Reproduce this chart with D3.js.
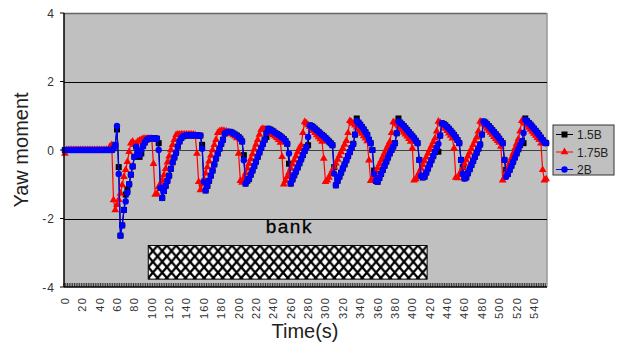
<!DOCTYPE html>
<html lang="en">
<head>
<meta charset="utf-8">
<title>Yaw moment</title>
<script src="https://d3js.org/d3.v7.min.js"></script>
<style>
  body { margin: 0; background: #fff; }
  text { font-family: "Liberation Sans", Arial, sans-serif; }
</style>
</head>
<body>
<script>
// one sample every 2 s, category axis
var times = d3.range(0, 556, 2);
var tickLabels = d3.range(0, 541, 20);
var yTicks = [-4, -2, 0, 2, 4];
var seriesNames = ["1.5B", "1.75B", "2B"];
var bankTimes = [97, 418];
var bankLevels = [-2.79, -3.77];
var bankLabel = "bank";

var yaw15 = [
  0,0,0,0,0,0,0,0,0,0,
  0,0,0,0,0,0,0,0,0,0,
  0,0,0,0,0,0,0,0,0.05,0.15,
  0.6,-0.5,-2.5,-2.2,-1.75,-1.3,-1.15,-1.0,-0.72,-0.48,
  -0.2,0.1,-0.05,-0.2,-0.1,0.12,0.22,0.3,0.33,0.34,
  0.34,0.34,0.34,0.33,0.2,-1.1,-1.4,-1.2,-1.05,-0.9,
  -0.75,-0.55,-0.36,-0.22,-0.08,0.1,0.25,0.35,0.4,0.42,
  0.43,0.43,0.43,0.43,0.43,0.43,0.43,0.42,0.42,0.15,
  -0.93,-1.18,-1.05,-0.9,-0.75,-0.6,-0.42,-0.25,-0.1,0.04,
  0.18,0.3,0.48,0.52,0.53,0.53,0.51,0.48,0.45,0.42,
  0.38,0.33,0.25,-0.15,-0.98,-0.9,-0.85,-0.72,-0.6,-0.47,
  -0.34,-0.2,-0.07,0.06,0.18,0.3,0.38,0.62,0.6,0.57,
  0.54,0.5,0.47,0.44,0.4,0.36,0.32,0.26,0.18,-0.4,
  -0.98,-0.86,-0.74,-0.63,-0.51,-0.39,-0.27,-0.15,-0.03,0.09,
  0.14,0.72,0.7,0.66,0.62,0.57,0.53,0.48,0.44,0.4,
  0.35,0.3,0.25,0.2,0.14,-0.5,-1.03,-0.9,-0.78,-0.66,
  -0.54,-0.42,-0.3,-0.18,-0.06,0.06,0.18,0.45,0.92,0.8,
  0.74,0.67,0.6,0.52,0.44,0.3,0.2,0.0,-0.6,-0.9,
  -0.93,-0.82,-0.7,-0.58,-0.46,-0.34,-0.22,-0.1,0.0,0.1,
  0.2,0.49,0.92,0.8,0.75,0.7,0.64,0.58,0.52,0.46,
  0.4,0.34,0.27,0.2,-0.29,-0.75,-0.8,-0.78,-0.66,-0.54,
  -0.42,-0.3,-0.18,-0.06,0.06,-0.05,0.42,0.78,0.76,0.72,
  0.67,0.62,0.56,0.5,0.44,0.37,0.29,0.2,-0.29,-0.5,
  -0.83,-0.8,-0.68,-0.56,-0.44,-0.32,-0.2,-0.08,0.04,0.16,
  0.45,0.83,0.8,0.75,0.7,0.64,0.58,0.52,0.46,0.4,
  0.33,0.26,0.2,-0.29,-0.58,-0.7,-0.58,-0.46,-0.34,-0.22,
  -0.1,0.02,0.14,0.26,0.2,0.92,0.84,0.79,0.74,0.68,
  0.62,0.56,0.5,0.43,0.36,0.29,0.22,0.2
];

var yaw175 = [
  -0.1,0,0,0,0,0,0,0,0,0,
  0,0,0,0,0,0,0,0,0,0,
  0,0,0,0,0,0,0.1,0.15,-1.46,-1.75,
  -1.6,-1.45,-1.27,-1.02,-0.78,-0.58,-0.34,-0.05,0.2,0.25,
  0.15,0.2,0.25,0.28,0.3,0.33,0.33,0.33,0.33,0.33,
  0.33,-0.4,-1.3,-1.28,-1.07,-1.0,-0.9,-0.73,-0.55,-0.36,
  -0.18,0.0,0.15,0.3,0.44,0.45,0.45,0.45,0.45,0.45,
  0.45,0.45,0.45,0.45,0.45,0.44,-0.1,-0.93,-1.17,-1.0,
  -0.85,-0.68,-0.5,-0.33,-0.16,0.0,0.15,0.3,0.5,0.55,
  0.56,0.56,0.55,0.54,0.52,0.5,0.47,0.44,0.4,0.35,
  -0.1,-0.9,-0.95,-0.82,-0.68,-0.54,-0.4,-0.26,-0.12,0.02,
  0.16,0.3,0.45,0.6,0.62,0.6,0.57,0.54,0.5,0.47,
  0.44,0.4,0.36,0.3,0.22,-0.2,-1.0,-0.9,-0.78,-0.66,
  -0.54,-0.42,-0.3,-0.18,-0.06,0.06,0.14,0.5,0.82,0.78,
  0.73,0.68,0.62,0.56,0.5,0.44,0.38,0.32,0.25,-0.25,
  -0.93,-0.88,-0.8,-0.7,-0.6,-0.5,-0.39,-0.28,-0.17,-0.06,
  0.05,0.16,0.27,0.5,0.85,0.82,0.77,0.72,0.66,0.6,
  0.54,0.48,0.41,0.34,0.26,-0.3,-0.9,-0.85,-0.75,-0.64,
  -0.53,-0.42,-0.31,-0.2,-0.09,0.02,0.13,0.24,0.5,0.82,
  0.8,0.75,0.7,0.64,0.58,0.52,0.46,0.4,0.33,0.25,
  0.05,-0.88,-0.85,-0.76,-0.65,-0.54,-0.43,-0.32,-0.21,-0.1,
  0.01,0.12,0.23,0.34,0.55,0.83,0.8,0.75,0.69,0.63,
  0.56,0.49,0.42,0.34,0.05,-0.8,-0.82,-0.72,-0.62,-0.51,
  -0.4,-0.29,-0.18,-0.07,0.04,0.15,0.26,0.37,0.55,0.83,
  0.8,0.75,0.69,0.63,0.57,0.51,0.45,0.39,0.33,0.27,
  0.22,0.1,-0.88,-0.8,-0.66,-0.52,-0.38,-0.24,-0.1,0.04,
  0.18,0.32,0.55,0.85,0.82,0.77,0.72,0.66,0.6,0.54,
  0.48,0.42,0.36,0.3,0.2,-0.58,-0.88,-0.85
];

var yaw2 = [
  0,0,0,0,0,0,0,0,0,0,
  0,0,0,0,0,0,0,0,0,0,
  0,0,0,0,0,0,0,0,0.05,0.15,
  0.7,-0.7,-2.5,-2.2,-1.75,-1.5,-1.25,-1.0,-0.72,-0.48,
  -0.2,0.1,-0.05,-0.15,0.0,0.12,0.22,0.3,0.33,0.34,
  0.34,0.34,0.34,0.33,0.0,-1.1,-1.4,-1.2,-1.05,-0.9,
  -0.75,-0.55,-0.36,-0.22,-0.08,0.1,0.25,0.35,0.4,0.42,
  0.43,0.43,0.43,0.43,0.43,0.43,0.43,0.42,0.42,0.04,
  -0.93,-1.18,-1.05,-0.9,-0.75,-0.6,-0.42,-0.25,-0.1,0.04,
  0.18,0.3,0.48,0.52,0.53,0.53,0.51,0.48,0.45,0.42,
  0.38,0.33,0.25,-0.3,-0.98,-0.9,-0.85,-0.72,-0.6,-0.47,
  -0.34,-0.2,-0.07,0.06,0.18,0.3,0.5,0.62,0.6,0.57,
  0.54,0.5,0.47,0.44,0.4,0.36,0.32,0.26,0.18,-0.1,
  -0.98,-0.86,-0.74,-0.63,-0.51,-0.39,-0.27,-0.15,-0.03,0.09,
  0.38,0.72,0.7,0.66,0.62,0.57,0.53,0.48,0.44,0.4,
  0.35,0.3,0.25,0.2,0.14,-0.69,-1.03,-0.9,-0.78,-0.66,
  -0.54,-0.42,-0.3,-0.18,-0.06,0.06,0.18,0.45,0.85,0.8,
  0.74,0.67,0.6,0.52,0.44,0.3,0.2,0.0,-0.7,-0.9,
  -0.93,-0.82,-0.7,-0.58,-0.46,-0.34,-0.22,-0.1,0.0,0.1,
  0.2,0.49,0.83,0.8,0.75,0.7,0.64,0.58,0.52,0.46,
  0.4,0.34,0.27,0.2,-0.29,-0.75,-0.8,-0.78,-0.66,-0.54,
  -0.42,-0.3,-0.18,-0.06,0.06,0.18,0.42,0.78,0.76,0.72,
  0.67,0.62,0.56,0.5,0.44,0.37,0.29,0.2,-0.29,-0.7,
  -0.83,-0.8,-0.68,-0.56,-0.44,-0.32,-0.2,-0.08,0.04,0.16,
  0.45,0.83,0.8,0.75,0.7,0.64,0.58,0.52,0.46,0.4,
  0.33,0.26,0.2,-0.29,-0.78,-0.7,-0.58,-0.46,-0.34,-0.22,
  -0.1,0.02,0.14,0.26,0.5,0.88,0.84,0.79,0.74,0.68,
  0.62,0.56,0.5,0.43,0.36,0.29,0.22,0.2
];

var w = 622, h = 345;
var plotL = 64, plotR = 547, plotT = 13, plotB = 287;

var svg = d3.select("body").append("svg")
    .attr("width", w)
    .attr("height", h);

var x = d3.scaleBand().domain(times).range([plotL, plotR]);
var xt = d3.scaleLinear().domain([0, times.length * 2]).range([plotL, plotR]);
var y = d3.scaleLinear().domain([-4, 4]).range([plotB, plotT]);
var cx = function(t) { return x(t) + x.bandwidth() / 2; };

// crosshatch for the bank period
var pat = svg.append("defs").append("pattern")
    .attr("id", "hatch")
    .attr("patternUnits", "userSpaceOnUse")
    .attr("x", xt(bankTimes[0]))
    .attr("y", y(bankLevels[0]))
    .attr("width", 9.3)
    .attr("height", 10.8);
pat.append("rect").attr("width", 9.3).attr("height", 10.8).attr("fill", "#fff");
pat.append("path")
    .attr("d", "M0,0L9.3,10.8M9.3,0L0,10.8")
    .attr("stroke", "#000")
    .attr("stroke-width", 2.3);

// plot area
svg.append("rect")
    .attr("x", plotL).attr("y", plotT)
    .attr("width", plotR - plotL).attr("height", plotB - plotT)
    .attr("fill", "#c0c0c0");
svg.append("line")
    .attr("x1", plotL).attr("x2", plotR).attr("y1", plotT + 0.5).attr("y2", plotT + 0.5)
    .attr("stroke", "#666").attr("stroke-width", 1.5);
svg.append("line")
    .attr("x1", plotR).attr("x2", plotR).attr("y1", plotT).attr("y2", plotB)
    .attr("stroke", "#999").attr("stroke-width", 1.5);

// gridlines
svg.selectAll("line.grid")
    .data([-2, 0, 2])
    .enter()
    .append("line")
    .attr("class", "grid")
    .attr("x1", plotL).attr("x2", plotR)
    .attr("y1", function(d) { return Math.round(y(d)) + 0.5; })
    .attr("y2", function(d) { return Math.round(y(d)) + 0.5; })
    .attr("stroke", function(d) { return d === 0 ? "#404040" : "#000"; })
    .attr("stroke-width", 1);

// bank box + label
svg.append("rect")
    .attr("x", xt(bankTimes[0]))
    .attr("y", y(bankLevels[0]))
    .attr("width", xt(bankTimes[1]) - xt(bankTimes[0]))
    .attr("height", y(bankLevels[1]) - y(bankLevels[0]))
    .attr("fill", "url(#hatch)")
    .attr("stroke", "#000")
    .attr("stroke-width", 1);
svg.append("text")
    .attr("x", (xt(bankTimes[0]) + xt(bankTimes[1])) / 2 - 22)
    .attr("y", y(bankLevels[0]) - 12.5)
    .attr("font-size", "19px")
    .attr("letter-spacing", "1.5px")
    .attr("stroke", "#000")
    .attr("stroke-width", 0.3)
    .attr("fill", "#000")
    .text(bankLabel);

// series: black, red, blue (blue on top)
var series = [
    { name: seriesNames[0], values: yaw15, color: "#000000", shape: "square" },
    { name: seriesNames[1], values: yaw175, color: "#ff0000", shape: "triangle" },
    { name: seriesNames[2], values: yaw2, color: "#0000ff", shape: "circle" }
];

var line = d3.line()
    .x(function(d, i) { return cx(times[i]); })
    .y(function(d) { return y(d); });

function drawMarker(g, shape, color) {
    if (shape === "square") {
        g.append("rect").attr("x", -3).attr("y", -3).attr("width", 6).attr("height", 6).attr("fill", color);
    } else if (shape === "triangle") {
        g.append("path").attr("d", d3.symbol(d3.symbolTriangle, 26)()).attr("fill", color);
    } else {
        g.append("circle").attr("r", 3.2).attr("fill", color);
    }
}

series.forEach(function(s) {
    svg.append("path")
        .datum(s.values)
        .attr("d", line)
        .attr("fill", "none")
        .attr("stroke", s.color)
        .attr("stroke-width", 1.2);
    svg.append("g").selectAll("g")
        .data(s.values)
        .enter()
        .append("g")
        .attr("transform", function(d, i) { return "translate(" + cx(times[i]) + "," + y(d) + ")"; })
        .each(function() { drawMarker(d3.select(this), s.shape, s.color); });
});

// x axis: minor ticks on every category, labels every 20 s
svg.selectAll("line.xtick")
    .data(times)
    .enter()
    .append("line")
    .attr("class", "xtick")
    .attr("x1", function(d) { return x(d); })
    .attr("x2", function(d) { return x(d); })
    .attr("y1", plotB)
    .attr("y2", plotB - 4)
    .attr("stroke", "#222")
    .attr("stroke-width", 0.9);
svg.append("line")
    .attr("x1", plotL).attr("x2", plotR).attr("y1", plotB).attr("y2", plotB)
    .attr("stroke", "#000").attr("stroke-width", 1.5);

svg.selectAll("text.xlab")
    .data(tickLabels)
    .enter()
    .append("text")
    .attr("class", "xlab")
    .attr("transform", function(d) { return "translate(" + (cx(d) + 4) + ",297) rotate(-90)"; })
    .attr("text-anchor", "end")
    .attr("font-size", "11px")
    .attr("letter-spacing", "1.2px")
    .attr("fill", "#333")
    .text(function(d) { return d; });

// y axis
svg.append("line")
    .attr("x1", plotL).attr("x2", plotL).attr("y1", plotT).attr("y2", plotB)
    .attr("stroke", "#000").attr("stroke-width", 1.5);
svg.selectAll("line.ytick")
    .data(yTicks)
    .enter()
    .append("line")
    .attr("class", "ytick")
    .attr("x1", plotL - 4).attr("x2", plotL)
    .attr("y1", function(d) { return y(d); })
    .attr("y2", function(d) { return y(d); })
    .attr("stroke", "#000");
svg.selectAll("text.ylab")
    .data(yTicks)
    .enter()
    .append("text")
    .attr("class", "ylab")
    .attr("x", 55)
    .attr("y", function(d) { return y(d) + 4.5; })
    .attr("text-anchor", "end")
    .attr("font-size", "12px")
    .attr("letter-spacing", "1px")
    .attr("fill", "#333")
    .text(function(d) { return d; });

// axis titles
svg.append("text")
    .attr("transform", "translate(28,150) rotate(-90)")
    .attr("text-anchor", "middle")
    .attr("font-size", "20px")
    .attr("fill", "#222")
    .text("Yaw moment");
svg.append("text")
    .attr("x", 305)
    .attr("y", 338)
    .attr("text-anchor", "middle")
    .attr("font-size", "20px")
    .attr("fill", "#222")
    .text("Time(s)");

// legend
var lg = svg.append("g").attr("transform", "translate(553,125)");
lg.append("rect")
    .attr("width", 61).attr("height", 50)
    .attr("fill", "#c0c0c0")
    .attr("stroke", "#333");
series.forEach(function(s, i) {
    var ly = 9.5 + i * 17.5;
    lg.append("line")
        .attr("x1", 3).attr("x2", 20).attr("y1", ly).attr("y2", ly)
        .attr("stroke", s.color);
    drawMarker(lg.append("g").attr("transform", "translate(11.5," + ly + ")"), s.shape, s.color);
    lg.append("text")
        .attr("x", 24)
        .attr("y", ly + 4.5)
        .attr("font-size", "12px")
        .attr("fill", "#222")
        .text(s.name);
});
</script>
</body>
</html>
